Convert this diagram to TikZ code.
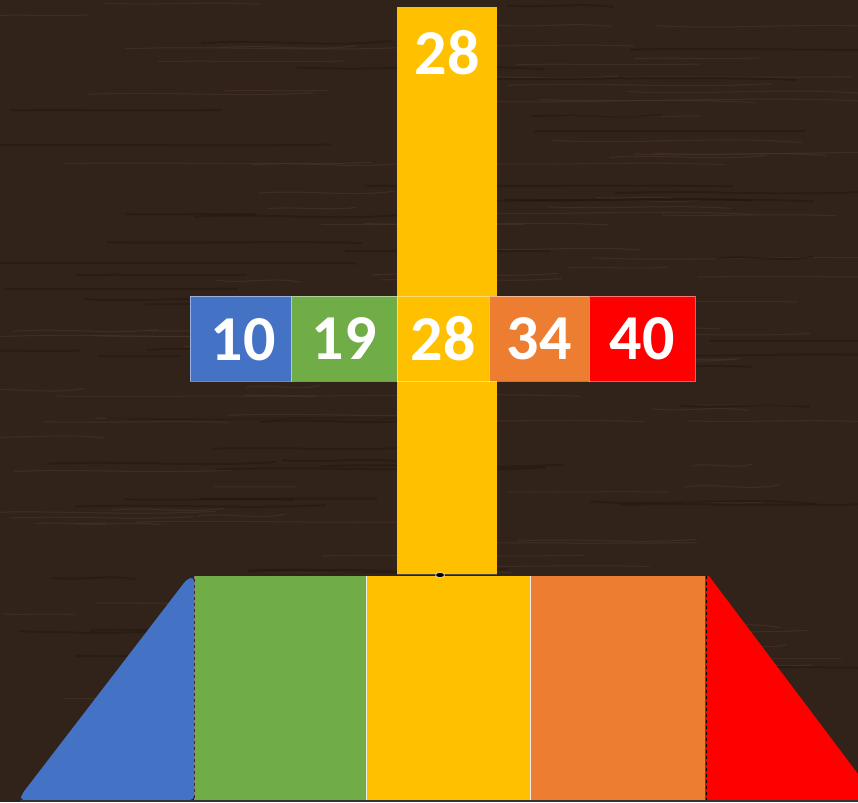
\documentclass[tikz,border=0pt]{standalone}
\usepackage{fontspec}
\usetikzlibrary{shapes.geometric}
\setmainfont{Carlito}
\begin{document}
\begin{tikzpicture}[x=1pt,y=-1pt,
  num/.style={text=white,font=\bfseries\fontsize{64}{64}\selectfont,inner sep=0pt},
  cell/.style={rectangle,inner sep=0pt,minimum height=85pt,draw=white,draw opacity=0.45,line width=0.6pt},
  sep/.style={white!85!gray,line width=1pt}]
\definecolor{wood}{HTML}{32231A}
\definecolor{grain}{HTML}{4A372B}
\definecolor{grainb}{HTML}{221610}
\definecolor{cblue}{HTML}{4472C4}
\definecolor{cgreen}{HTML}{70AD47}
\definecolor{cyellow}{HTML}{FFC000}
\definecolor{corange}{HTML}{ED7D31}
\definecolor{cred}{HTML}{FF0000}
% background
\fill[wood] (0,0) rectangle (858,802);
\useasboundingbox (0,0) rectangle (858,802);
\pgfmathsetseed{7}
\foreach \k in {1,...,110}{
  \pgfmathsetmacro{\yy}{rnd*800}
  \pgfmathsetmacro{\xa}{rnd*760-40}
  \pgfmathsetmacro{\ln}{60+rnd*280}
  \pgfmathsetmacro{\dy}{(rnd-0.5)*10}
  \draw[grain,line width=1pt,opacity=0.55] (\xa,\yy) .. controls (\xa+\ln/3,\yy+\dy) and (\xa+2*\ln/3,\yy-\dy) .. (\xa+\ln,\yy+\dy/2);
}
\foreach \k in {1,...,60}{
  \pgfmathsetmacro{\yy}{rnd*800}
  \pgfmathsetmacro{\xa}{rnd*760-40}
  \pgfmathsetmacro{\ln}{80+rnd*300}
  \pgfmathsetmacro{\dy}{(rnd-0.5)*10}
  \draw[grainb,line width=2pt,opacity=0.5] (\xa,\yy) .. controls (\xa+\ln/3,\yy+\dy) and (\xa+2*\ln/3,\yy-\dy) .. (\xa+\ln,\yy+\dy/2);
}
% vertical bar
\node[rectangle,fill=cyellow,inner sep=0pt,minimum width=100pt,minimum height=567pt] (bar) at (447,290.5) {};
\node[num] (top) at (447,53) {28};
% row of cells
\node[cell,fill=cblue,minimum width=101pt] (c1) at (240.5,338.5) {};
\node[cell,fill=cgreen,minimum width=106pt] (c2) at (344,338.5) {};
\node[cell,fill=cyellow,minimum width=92pt] (c3) at (443,338.5) {};
\node[cell,fill=corange,minimum width=100pt] (c4) at (539,338.5) {};
\node[cell,fill=cred,minimum width=106pt] (c5) at (642,338.5) {};
\node[num] at (243,340) {10};
\node[num] at (c2) {19};
\node[num] at (c3) {28};
\node[num] at (c4) {34};
\node[num] at (c5) {40};
% base
\fill[cblue,rounded corners=4pt] (20,800) -- (22,794) -- (187,579) -- (194,577) -- (194,800) -- cycle;
\node[rectangle,fill=cgreen,inner sep=0pt,minimum width=172pt,minimum height=224pt] (b2) at (280.5,688) {};
\node[rectangle,fill=cyellow,inner sep=0pt,minimum width=164pt,minimum height=224pt] (b3) at (448.5,688) {};
\node[rectangle,fill=corange,inner sep=0pt,minimum width=174pt,minimum height=224pt] (b4) at (617.5,688) {};
\fill[cred] (705,576) -- (709,576) -- (858,774) -- (858,800) -- (705,800) -- cycle;
\draw[sep] (b2.north east) -- (b2.south east);
\draw[sep] (b3.north east) -- (b3.south east);
\draw[gray,dashed,line width=0.8pt] (b2.north west) -- (b2.south west);
\draw[black,dashed,line width=1pt] (b4.north east) ++(1.5,0) -- ++(0,224);
\draw[black!70,line width=0.8pt] (bar.south west) -- (bar.south east);
\draw[black!80,line width=2pt] (20,800.5) -- (858,800.5);
\node[ellipse,fill=black,draw=white,line width=0.5pt,inner sep=0pt,minimum width=9pt,minimum height=5pt] (knob) at (440,575) {};
\end{tikzpicture}
\end{document}
